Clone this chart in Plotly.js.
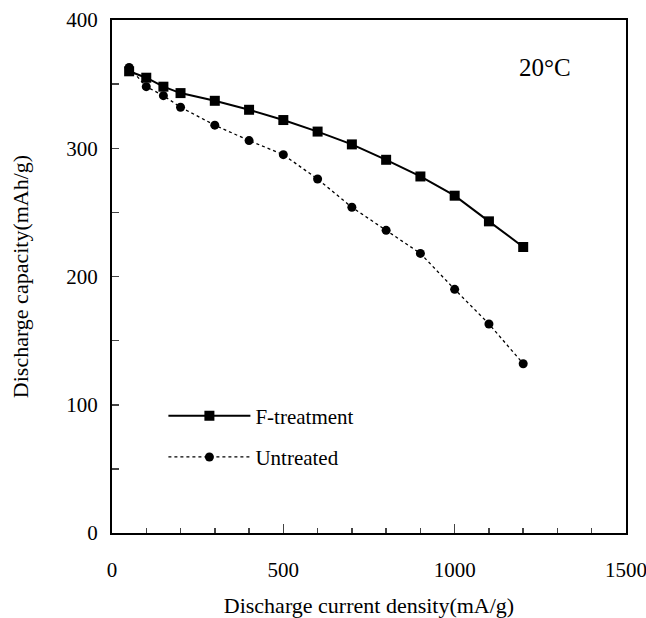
<!DOCTYPE html>
<html>
<head>
<meta charset="utf-8">
<script src="https://cdn.plot.ly/plotly-3.0.1.min.js"></script>
<style>html,body{margin:0;padding:0;background:#fff;}#chart{width:646px;height:618px;}</style>
</head>
<body>
<div id="chart"></div>
<script>
const currentDensity = [50, 100, 150, 200, 300, 400, 500, 600, 700, 800, 900, 1000, 1100, 1200];
const fTreatment = [360, 355, 348, 343, 337, 330, 322, 313, 303, 291, 278, 263, 243, 223];
const untreated = [363, 348, 341, 332, 318, 306, 295, 276, 254, 236, 218, 190, 163, 132];
const seriesNames = ['F-treatment', 'Untreated'];
const xTickVals = [0, 500, 1000, 1500];
const yTickVals = [0, 100, 200, 300, 400];

const font = {family: '"Liberation Serif", "Times New Roman", serif', color: '#000'};
const f = s => Object.assign({size: s}, font);

const traces = [
  {x: currentDensity, y: fTreatment, name: seriesNames[0], legendgroup: 'a', type: 'scatter', mode: 'lines+markers',
   line: {color: '#000', width: 2}, marker: {symbol: 'square', size: 10, color: '#000'}},
  {x: currentDensity, y: untreated, name: seriesNames[1], legendgroup: 'b', type: 'scatter', mode: 'lines+markers',
   line: {color: '#000', width: 1.3, dash: 'dot'}, marker: {symbol: 'circle', size: 9, color: '#000'}}
];

const layout = {
  width: 646, height: 618,
  margin: {l: 112, r: 20, t: 20, b: 85},
  paper_bgcolor: '#fff', plot_bgcolor: '#fff',
  font: f(21),
  showlegend: true,
  legend: {x: 0.1, y: 0.268, xanchor: 'left', yanchor: 'top', bgcolor: 'rgba(0,0,0,0)',
           font: f(21), itemwidth: 82, traceorder: 'grouped', tracegroupgap: 11},
  xaxis: {range: [0, 1500], tickvals: xTickVals, ticks: 'inside', ticklen: 9, tickwidth: 1.5,
          showline: true, linewidth: 2, linecolor: '#000', mirror: true, showgrid: false, zeroline: false,
          minor: {dtick: 100, ticks: 'inside', ticklen: 5, tickwidth: 1.5, showgrid: false},
          tickfont: f(21), ticklabelstandoff: 17, ticklabeloverflow: 'allow',
          title: {text: 'Discharge current density(mA/g)', font: f(22), standoff: 22}},
  yaxis: {range: [0, 400], tickvals: yTickVals, ticks: 'inside', ticklen: 7, tickwidth: 1.5,
          showline: true, linewidth: 2, linecolor: '#000', mirror: true, showgrid: false, zeroline: false,
          minor: {dtick: 50, ticks: 'inside', ticklen: 7, tickwidth: 1.5, showgrid: false},
          tickfont: f(21), ticklabelstandoff: 8, ticklabeloverflow: 'allow',
          title: {text: 'Discharge capacity(mAh/g)', font: f(22), standoff: 32}},
  annotations: [
    {text: '20°C', xref: 'paper', yref: 'paper', x: 0.842, y: 0.908, xanchor: 'center', yanchor: 'middle',
     showarrow: false, font: f(25)}
  ]
};

Plotly.newPlot('chart', traces, layout, {displayModeBar: false, staticPlot: true});
</script>
</body>
</html>
